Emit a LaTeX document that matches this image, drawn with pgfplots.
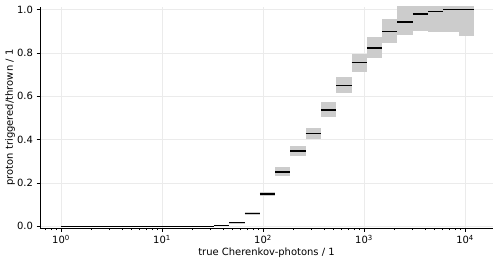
\documentclass[border=0pt]{standalone}
\usepackage{fontspec}
\setmainfont{DejaVu Sans}
\usepackage{pgfplots}
\pgfplotsset{compat=1.18}
\definecolor{boxgray}{RGB}{204,204,204}
\definecolor{gridgray}{RGB}{235,235,235}
\newcommand{\binbox}[4]{\addplot[fill=boxgray,draw=none] coordinates {(#1,#3) (#2,#3) (#2,#4) (#1,#4)};}
\pgfplotstableread{
x y
1 0
32.66 0.003
46.29 0.017
65.60 0.060
92.95 0.148
131.7 0.251
186.6 0.347
264.5 0.429
374.8 0.538
531.1 0.650
752.6 0.756
1066.6 0.824
1511 0.900
2142 0.944
3035 0.981
4301 0.991
6095 1.000
8637 1.000
12240 1.000
}\effdata
\begin{document}
\begin{tikzpicture}
\useasboundingbox (0,0) rectangle (504bp,259bp);
\begin{axis}[
  at={(40bp,31bp)}, anchor=south west,
  scale only axis, width=453bp, height=221bp,
  xmode=log, xmin=0.62, xmax=18900, ymin=-0.008, ymax=1.0125,
  axis x line*=bottom, axis y line*=left,
  axis line style={black, line width=0.8bp},
  tick align=outside,
  major tick length=3.5bp, minor tick length=2bp,
  tick style={black, line width=0.8bp},
  minor tick style={black, line width=0.6bp},
  xtick={1,10,100,1000,10000},
  xticklabels={10\textsuperscript{0},10\textsuperscript{1},10\textsuperscript{2},10\textsuperscript{3},10\textsuperscript{4}},
  minor xtick={0.7,0.8,0.9,2,3,4,5,6,7,8,9,20,30,40,50,60,70,80,90,200,300,400,500,600,700,800,900,2000,3000,4000,5000,6000,7000,8000,9000},
  ytick={0,0.2,0.4,0.6,0.8,1.0},
  yticklabel style={/pgf/number format/.cd, fixed, fixed zerofill, precision=1},
  /pgf/number format/assume math mode=true,
  tick label style={font=\fontsize{10}{12}\selectfont},
  xmajorgrids, ymajorgrids,
  major grid style={gridgray, line width=0.8bp},
  xlabel={true Cherenkov-photons / 1},
  ylabel={proton triggered/thrown / 1},
  label style={font=\fontsize{10}{12}\selectfont},
  xlabel style={at={(axis description cs:0.5,-0.113)}, anchor=center},
  ylabel style={at={(axis description cs:-0.066,0.5)}, anchor=center, rotate=0},
]
\binbox{32.66}{46.29}{0.000}{0.006}
\binbox{46.29}{65.60}{0.012}{0.022}
\binbox{65.60}{92.95}{0.054}{0.066}
\binbox{92.95}{131.7}{0.139}{0.159}
\binbox{131.7}{186.6}{0.233}{0.272}
\binbox{186.6}{264.5}{0.324}{0.370}
\binbox{264.5}{374.8}{0.401}{0.455}
\binbox{374.8}{531.1}{0.506}{0.573}
\binbox{531.1}{752.6}{0.614}{0.688}
\binbox{752.6}{1066.6}{0.714}{0.796}
\binbox{1066.6}{1511}{0.776}{0.874}
\binbox{1511}{2142}{0.846}{0.958}
\binbox{2142}{3035}{0.884}{1.03}
\binbox{3035}{4301}{0.900}{1.03}
\binbox{4301}{6095}{0.897}{1.03}
\binbox{6095}{8637}{0.897}{1.03}
\binbox{8637}{12240}{0.880}{1.03}
\addplot[black, line width=1.5bp, jump mark left] table[x=x,y=y] {\effdata};
\end{axis}
\end{tikzpicture}
\end{document}
